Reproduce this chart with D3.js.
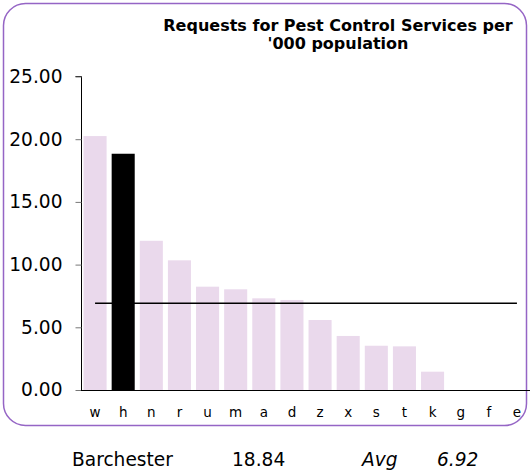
<!DOCTYPE html>
<html><head><meta charset="utf-8">
<script src="https://cdn.jsdelivr.net/npm/d3@7"></script>
<style>body{margin:0;background:#fff;}svg{display:block;}</style>
</head><body>
<script>
const categories = ["w","h","n","r","u","m","a","d","z","x","s","t","k","g","f","e"];
const values = [20.25,18.84,11.9,10.34,8.24,8.03,7.31,7.18,5.58,4.31,3.53,3.48,1.46,0,0,0];
const highlight = "h";
const average = 6.92;
const yTicks = [0,5,10,15,20,25];
const titleLines = ["Requests for Pest Control Services per","'000 population"];
const footer = {name:"Barchester", value:"18.84", avgLabel:"Avg", avgValue:"6.92"};

const W=530,H=472;
const svg=d3.select("body").append("svg").attr("width",W).attr("height",H);
const font="'DejaVu Sans', Verdana, sans-serif";

svg.append("rect").attr("x",3.5).attr("y",3.5).attr("width",523).attr("height",422)
  .attr("rx",22).attr("ry",22).attr("fill","none").attr("stroke","#9565c5").attr("stroke-width",1.5);

const x=d3.scaleBand().domain(categories).range([81,531]).paddingInner(0.18).paddingOuter(0.09);
const y=d3.scaleLinear().domain([0,25]).range([390,76.5]);

// bars
svg.append("g").selectAll("rect").data(categories).join("rect")
  .attr("x",d=>x(d)).attr("width",x.bandwidth())
  .attr("y",(d,i)=>y(values[i])).attr("height",(d,i)=>y(0)-y(values[i]))
  .attr("fill",d=>d===highlight?"#000":"#ead9ec");

// average line
svg.append("line").attr("x1",x(categories[0])+x.bandwidth()/2).attr("x2",x(categories[categories.length-1])+x.bandwidth()/2)
  .attr("y1",y(average)).attr("y2",y(average)).attr("stroke","#000").attr("stroke-width",1.6);

// y axis
const ya=svg.append("g").attr("transform","translate(81.5,0)")
  .call(d3.axisLeft(y).tickValues(yTicks).tickFormat(d3.format(".2f")).tickSize(6).tickPadding(13));
ya.select(".domain").attr("stroke","#000").attr("d","M-6,76.5H0V390");
ya.selectAll(".tick line").attr("stroke","#777");
ya.selectAll("text").attr("font-family",font).attr("font-size","18.6px").attr("fill","#000");

// x axis
svg.append("line").attr("x1",81).attr("x2",530).attr("y1",390.5).attr("y2",390.5).attr("stroke","#000").attr("stroke-width",1.2);
const xa=svg.append("g").attr("transform","translate(0,390.5)")
  .call(d3.axisBottom(x).tickSize(0).tickPadding(17));
xa.select(".domain").remove();
xa.selectAll("text").attr("font-family",font).attr("font-size","13.5px").attr("fill","#000");

// title
svg.append("text").attr("font-family",font).attr("font-weight","bold").attr("font-size","16px")
  .attr("text-anchor","middle").selectAll("tspan").data(titleLines).join("tspan")
  .attr("x",338).attr("y",(d,i)=>31+i*18.3).text(d=>d);

// footer
const f=svg.append("g").attr("font-family",font).attr("font-size","18.6px").attr("fill","#000");
f.append("text").attr("x",72).attr("y",466).text(footer.name);
f.append("text").attr("x",232).attr("y",466).text(footer.value);
f.append("text").attr("x",362).attr("y",466).attr("font-style","italic").text(footer.avgLabel);
f.append("text").attr("x",437).attr("y",466).attr("font-style","italic").text(footer.avgValue);
</script>
</body></html>
